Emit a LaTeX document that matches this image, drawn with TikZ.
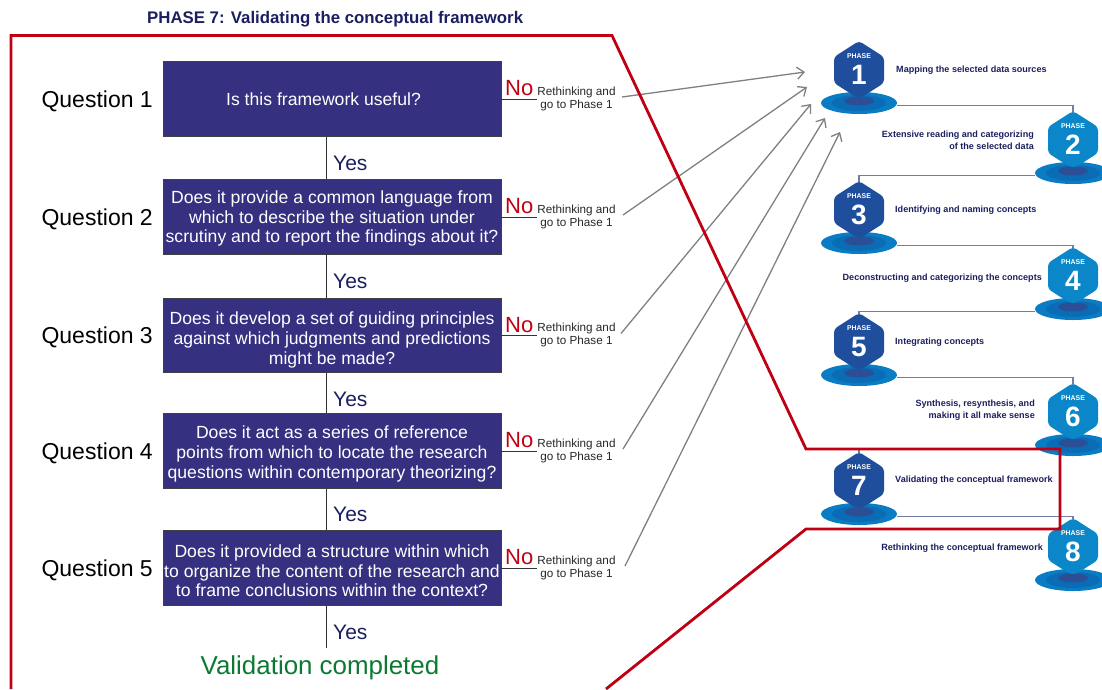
\documentclass[tikz,border=0pt]{standalone}
\usepackage{fontspec}
\setmainfont{Liberation Sans}
\usetikzlibrary{arrows.meta,shapes.geometric}
\definecolor{boxblue}{HTML}{35307F}
\definecolor{navy}{HTML}{1B1F5F}
\definecolor{framered}{HTML}{C00012}
\definecolor{okgreen}{HTML}{0B7A30}
\definecolor{oddblue}{HTML}{1F4E9C}
\definecolor{evenblue}{HTML}{0A86C9}
\definecolor{discout}{HTML}{0A7CC4}
\definecolor{discmid}{HTML}{0A6CB5}
\definecolor{discin}{HTML}{2B4F96}
\definecolor{linkblue}{HTML}{6F7FA8}
\tikzset{
  qbox/.style={draw=black!75,line width=0.8pt,fill=boxblue,minimum width=338pt,
    minimum height=74.5pt,inner sep=0pt},
  qtext/.style={text=white,inner sep=0pt,align=center,font=\fontsize{17.6}{19.6}\selectfont},
  qlabel/.style={anchor=east,text=black,font=\fontsize{23}{25}\selectfont},
  yeslabel/.style={anchor=west,text=navy,font=\fontsize{21}{23}\selectfont},
  nolabel/.style={anchor=west,text=framered,inner sep=0pt,font=\fontsize{22}{24}\selectfont},
  backlabel/.style={align=center,text=black!85,inner sep=0pt,font=\fontsize{11.7}{13}\selectfont},
  flowline/.style={draw=black!80,line width=1pt},
  backarrow/.style={draw=black!50,line width=1.3pt,-{Straight Barb[length=7pt,width=12pt]}},
  phasetext/.style={text=navy,inner sep=0pt,font=\fontsize{9.05}{12.4}\selectfont\bfseries},
  phaselink/.style={draw=linkblue,line width=1.2pt},
  discbase/.style={ellipse,fill=discout,minimum width=76pt,minimum height=22pt,inner sep=0pt}
}
% #1 phase number, #2 x, #3 y of the top point, #4 colour
\newcommand{\phaseicon}[4]{
  \node[discbase] (base#1) at (#2,#3+62) {};
  \fill[discmid] (#2,#3+62) ellipse [x radius=27,y radius=8];
  \fill[discin] (#2,#3+60) ellipse [x radius=15,y radius=4.5];
  \fill[#4,rounded corners=3.5pt] (#2,#3) -- (#2+25,#3+16) -- (#2+25,#3+42) -- (#2+3,#3+56)
    -- (#2-3,#3+56) -- (#2-25,#3+42) -- (#2-25,#3+16) -- cycle;
  \coordinate (top#1) at (#2,#3+1);
  \node[text=white,inner sep=0pt,font=\fontsize{6.9}{7}\selectfont\bfseries] (head#1) at (#2,#3+15) {PHASE};
  \node[text=white,inner sep=0pt,font=\fontsize{28}{29}\selectfont\bfseries] (num#1) at (#2,#3+34) {#1};
}
\begin{document}
\begin{tikzpicture}[x=1pt,y=-1pt]
  \useasboundingbox (0,0) rectangle (1102,689);

  \node[anchor=west,inner sep=0pt,text=navy,font=\fontsize{16.8}{18}\selectfont\bfseries] (title) at (147,19.5)
    {PHASE 7: Validating the conceptual framework};

  % the five questions
  \node[qbox] (q1) at (332,99) {};
  \node[qbox] (q2) at (332,217) {};
  \node[qbox] (q3) at (332,335.5) {};
  \node[qbox] (q4) at (332,451) {};
  \node[qbox] (q5) at (332,568) {};
  \node[qtext] (q1text) at (323.5,99) {Is this framework useful?};
  \node[qtext] (q2text) at (332,218.7) {Does it provide a common language from\\which to describe the situation under\\scrutiny and to report the findings about it?};
  \node[qtext] (q3text) at (332,340) {Does it develop a set of guiding principles\\against which judgments and predictions\\might be made?};
  \node[qtext] (q4text) at (332,454) {Does it act as a series of reference\\points from which to locate the research\\questions within contemporary theorizing?};
  \node[qtext] (q5text) at (332,571) {Does it provided a structure within which\\to organize the content of the research and\\to frame conclusions within the context?};
  \coordinate (done) at (326,648);
  \node[text=okgreen,inner sep=0pt,font=\fontsize{25.9}{28}\selectfont] (valid) at (320,667.5) {Validation completed};

  \foreach \n/\ypos/\yyes/\xend in {1/99/163/622,2/217/281/623,3/335.5/399/621,4/451/514/623,5/568/632/625} {
    \node[qlabel,inner sep=0pt] (lab\n) at (153,\ypos+2) {Question \n};
    \node[nolabel] (no\n) at (505,\ypos-10.5) {No};
    \node[backlabel] (back\n) at (576.5,\ypos-0.2) {Rethinking and\\go to Phase 1};
    \coordinate (from\n) at (\xend,\ypos-2);
    \draw[flowline] (q\n.east) -- (537,\ypos);
    \node[yeslabel,inner sep=0pt] (yes\n) at (333,\yyes) {Yes};
  }
  \draw[flowline] (q1.south -| done) -- (q2.north -| done);
  \draw[flowline] (q2.south -| done) -- (q3.north -| done);
  \draw[flowline] (q3.south -| done) -- (q4.north -| done);
  \draw[flowline] (q4.south -| done) -- (q5.north -| done);
  \draw[flowline] (q5.south -| done) -- (done);

  % phase ladder
  \phaseicon{1}{859}{41}{oddblue}
  \phaseicon{2}{1073}{111}{evenblue}
  \phaseicon{3}{859}{181}{oddblue}
  \phaseicon{4}{1073}{247}{evenblue}
  \phaseicon{5}{859}{313}{oddblue}
  \phaseicon{6}{1073}{383}{evenblue}
  \phaseicon{7}{859}{452}{oddblue}
  \phaseicon{8}{1073}{518}{evenblue}

  \draw[phaselink] ([yshift=-2.5pt]base1.east) -| (top2);
  \draw[phaselink] ([yshift=-2.5pt]base2.west) -| (top3);
  \draw[phaselink] ([yshift=-2.5pt]base3.east) -| (top4);
  \draw[phaselink] ([yshift=-2.5pt]base4.west) -| (top5);
  \draw[phaselink] ([yshift=-2.5pt]base5.east) -| (top6);
  \draw[phaselink] ([yshift=-4pt]base6.west) -| (top7);
  \draw[phaselink] ([yshift=-2.5pt]base7.east) -| (top8);

  \node[phasetext,anchor=west] (t1) at (896,70) {Mapping the selected data sources};
  \node[phasetext,anchor=east,align=right] (t2) at (1034,140.5) {Extensive reading and categorizing\\of the selected data};
  \node[phasetext,anchor=west] (t3) at (895,210) {Identifying and naming concepts};
  \node[phasetext,anchor=east] (t4) at (1042,278) {Deconstructing and categorizing the concepts};
  \node[phasetext,anchor=west] (t5) at (895,342) {Integrating concepts};
  \node[phasetext,anchor=east,align=right] (t6) at (1035,410) {Synthesis, resynthesis, and\\making it all make sense};
  \node[phasetext,anchor=west] (t7) at (895,480) {Validating the conceptual framework};
  \node[phasetext,anchor=east] (t8) at (1043,548) {Rethinking the conceptual framework};

  % back to phase 1
  \coordinate (to1) at (805,72);
  \coordinate (to2) at (807,87);
  \coordinate (to3) at (811,104);
  \coordinate (to4) at (825,118);
  \coordinate (to5) at (840,132);
  \foreach \n in {1,...,5} {
    \draw[backarrow] (from\n) -- (to\n);
  }

  % red frame
  \draw[framered,line width=2.8pt,line join=miter] (11,689) -- (11,35.5) -- (612,35.5) -- (806,449)
    -- (1060,449) -- (1060,529) -- (806,529) -- (606,689);
\end{tikzpicture}
\end{document}
